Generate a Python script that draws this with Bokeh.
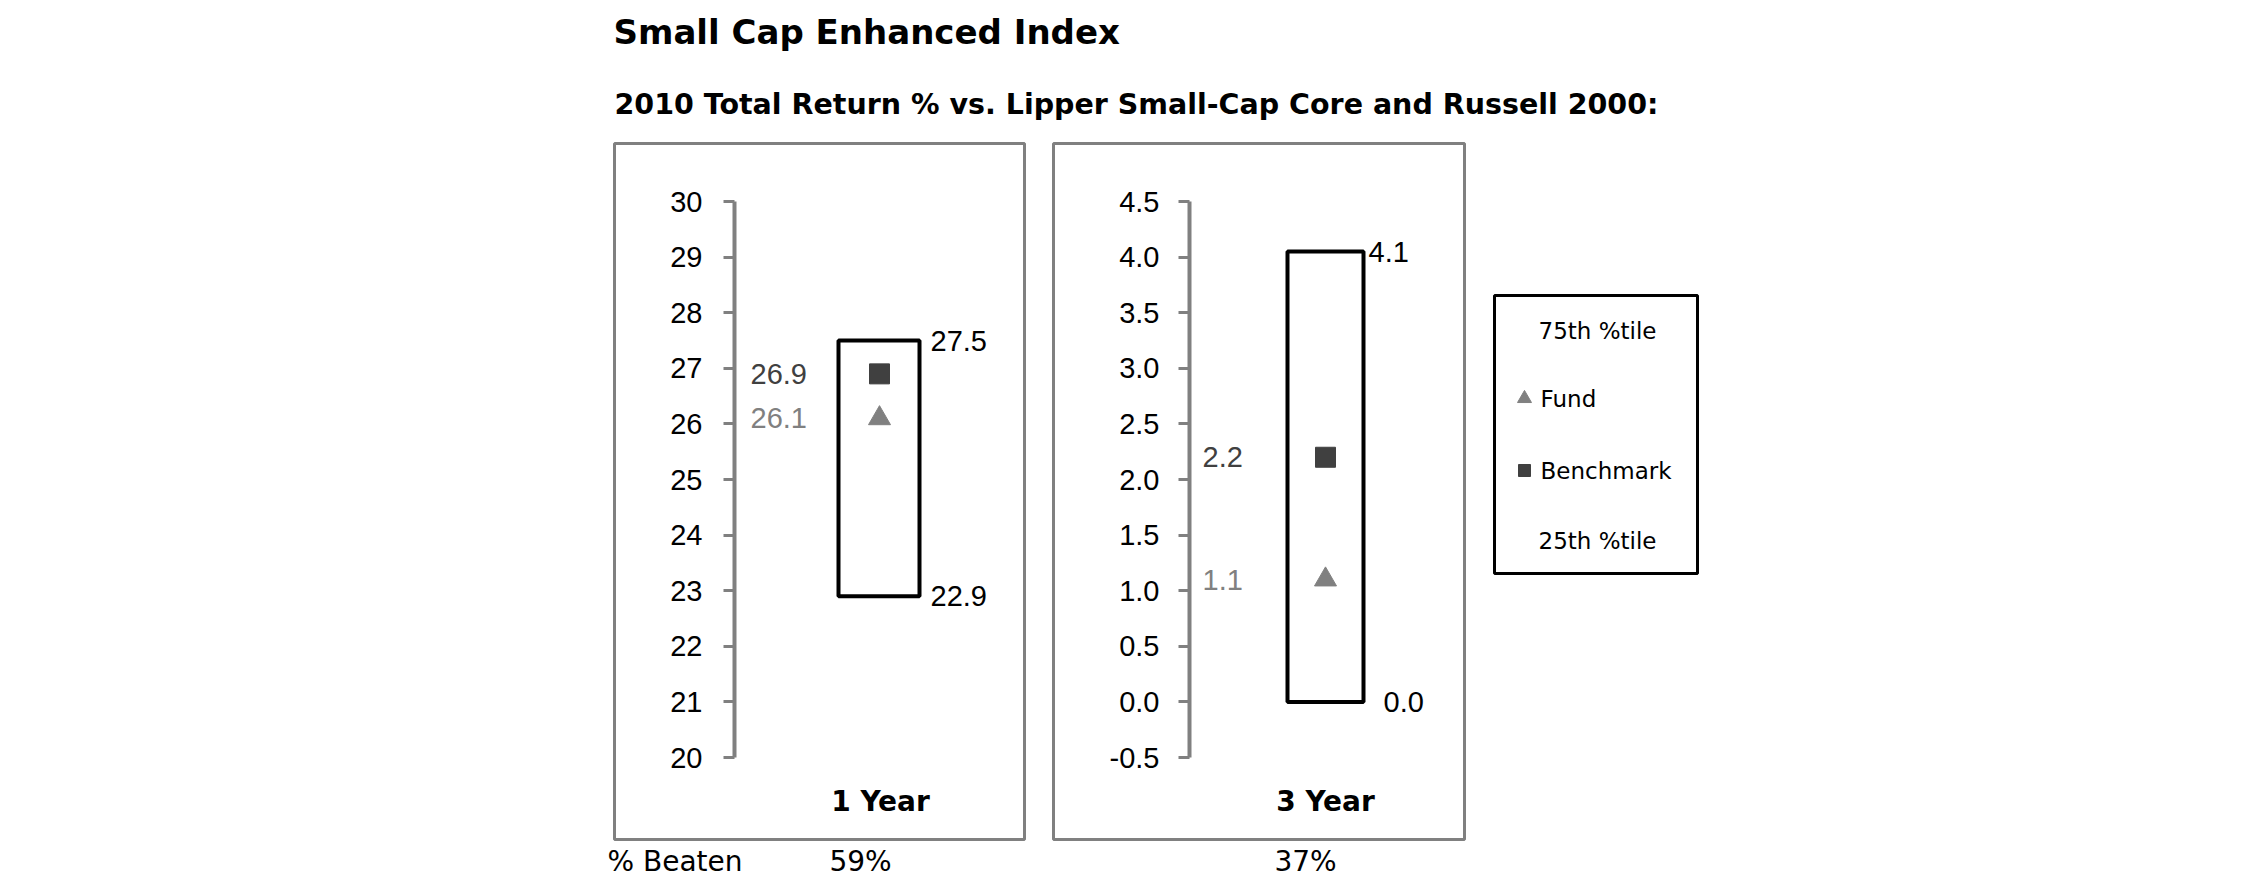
from bokeh.plotting import figure
from bokeh.models import Range1d, LinearAxis, FixedTicker, NumeralTickFormatter, BasicTickFormatter
from bokeh.embed import file_html
from bokeh.resources import INLINE
from bokeh.core.properties import value

# ---------------- data ----------------
title = "Small Cap Enhanced Index"
subtitle = "2010 Total Return % vs. Lipper Small-Cap Core and Russell 2000:"
periods = ["1 Year", "3 Year"]
p75 = [27.5, 4.05]
p25 = [22.9, 0.0]
fund = [26.1, 1.1]
benchmark = [26.9, 2.2]
p75_labels = ["27.5", "4.1"]
p25_labels = ["22.9", "0.0"]
fund_labels = ["26.1", "1.1"]
benchmark_labels = ["26.9", "2.2"]
pct_beaten = ["59%", "37%"]
beaten_title = "% Beaten"
ticks_1yr = [20, 21, 22, 23, 24, 25, 26, 27, 28, 29, 30]
ticks_3yr = [-0.5, 0.0, 0.5, 1.0, 1.5, 2.0, 2.5, 3.0, 3.5, 4.0, 4.5]
legend_labels = ["75th %tile", "Fund", "Benchmark", "25th %tile"]

# ---------------- layout / style ----------------
W, H = 2234, 879
AX_TOP, AX_BOT = 201, 757          # pixel rows of the axis ends
NUM_FONT_NAME = "Liberation Sans"
NUM_FONT = value(NUM_FONT_NAME)
NUM_SIZE = "29px"
TXT_FONT = value("DejaVu Sans")
FUND_C = "#808080"
BENCH_C = "#404040"
GRID_C = "#808080"

panels = [
    dict(ticks=ticks_1yr, fmt=BasicTickFormatter(), frame=(614, 1024), axis_x=734, standoff=21,
         box=(838, 919), mark_x=879, val_x=750, p75_x=930, p25_x=930, title_x=880, beaten_x=860),
    dict(ticks=ticks_3yr, fmt=NumeralTickFormatter(format="0.0"), frame=(1053, 1464), axis_x=1189,
         standoff=19, box=(1287, 1363), mark_x=1325, val_x=1202, p75_x=1368, p25_x=1383,
         title_x=1325, beaten_x=1305),
]

p = figure(width=W, height=H, output_backend="svg", toolbar_location=None,
           x_range=Range1d(0, W), y_range=Range1d(H, 0), min_border=0,
           x_axis_type=None, y_axis_type=None)
p.outline_line_color = None
p.background_fill_color = "white"
p.border_fill_color = "white"

for i, cfg in enumerate(panels):
    lo, hi = min(cfg["ticks"]), max(cfg["ticks"])
    scale = (hi - lo) / (AX_BOT - AX_TOP)
    rname = "panel%d" % i
    p.extra_y_ranges[rname] = Range1d(start=lo - (H - AX_BOT) * scale, end=hi + AX_TOP * scale)

    # panel frame
    fl, fr = cfg["frame"]
    p.quad(left=[fl], right=[fr], top=[143], bottom=[839], fill_color=None,
           line_color=GRID_C, line_width=3)

    ax = LinearAxis(y_range_name=rname, fixed_location=cfg["axis_x"], bounds=(lo, hi),
                    ticker=FixedTicker(ticks=cfg["ticks"]), formatter=cfg["fmt"],
                    axis_line_color=GRID_C, axis_line_width=4,
                    major_tick_line_color=GRID_C, major_tick_line_width=3,
                    major_tick_out=11, major_tick_in=0, minor_tick_out=0, minor_tick_in=0,
                    major_label_text_font=NUM_FONT_NAME, major_label_text_font_size=NUM_SIZE,
                    major_label_text_color="black", major_label_standoff=cfg["standoff"])
    p.add_layout(ax, "left")

    bl, br = cfg["box"]
    p.quad(left=[bl], right=[br], top=[p75[i]], bottom=[p25[i]], y_range_name=rname,
           fill_color="white", line_color="black", line_width=4)

    p.scatter(x=[cfg["mark_x"]], y=[benchmark[i]], marker="square", size=20,
              color=BENCH_C, y_range_name=rname)
    p.scatter(x=[cfg["mark_x"]], y=[fund[i]], marker="triangle", size=22,
              color=FUND_C, y_range_name=rname)

    p.text(x=[cfg["val_x"]], y=[benchmark[i]], text=[benchmark_labels[i]], y_range_name=rname,
           text_font=NUM_FONT, text_font_size=NUM_SIZE, text_color=BENCH_C,
           text_align="left", text_baseline="middle")
    p.text(x=[cfg["val_x"]], y=[fund[i]], text=[fund_labels[i]], y_range_name=rname,
           text_font=NUM_FONT, text_font_size=NUM_SIZE, text_color=FUND_C,
           text_align="left", text_baseline="middle")
    p.text(x=[cfg["p75_x"]], y=[p75[i]], text=[p75_labels[i]], y_range_name=rname,
           text_font=NUM_FONT, text_font_size=NUM_SIZE, text_color="black",
           text_align="left", text_baseline="middle")
    p.text(x=[cfg["p25_x"]], y=[p25[i]], text=[p25_labels[i]], y_range_name=rname,
           text_font=NUM_FONT, text_font_size=NUM_SIZE, text_color="black",
           text_align="left", text_baseline="middle")

    p.text(x=[cfg["title_x"]], y=[801], text=[periods[i]], text_font=TXT_FONT,
           text_font_size="28px", text_font_style="bold", text_color="black",
           text_align="center", text_baseline="middle")
    p.text(x=[cfg["beaten_x"]], y=[861], text=[pct_beaten[i]], text_font=TXT_FONT,
           text_font_size="28px", text_color="black",
           text_align="center", text_baseline="middle")

p.text(x=[607], y=[861], text=[beaten_title], text_font=TXT_FONT, text_font_size="28px",
       text_color="black", text_align="left", text_baseline="middle")

# titles
p.text(x=[613], y=[31], text=[title], text_font=TXT_FONT, text_font_size="34px",
       text_font_style="bold", text_color="black", text_align="left", text_baseline="middle")
p.text(x=[614], y=[104], text=[subtitle], text_font=TXT_FONT, text_font_size="28.5px",
       text_font_style="bold", text_color="black", text_align="left", text_baseline="middle")

# legend
p.quad(left=[1494], right=[1697], top=[295], bottom=[573], fill_color="white",
       line_color="black", line_width=3)
leg_y = [330, 398, 470, 540]
leg_x = [1538, 1540, 1540, 1538]
p.text(x=leg_x, y=leg_y, text=legend_labels, text_font=TXT_FONT, text_font_size="23px",
       text_color="black", text_align="left", text_baseline="middle")
p.scatter(x=[1524], y=[leg_y[1]], marker="triangle", size=14, color=FUND_C)
p.scatter(x=[1524], y=[leg_y[2]], marker="square", size=12, color=BENCH_C)

open("out.html", "w").write(file_html(p, INLINE))
